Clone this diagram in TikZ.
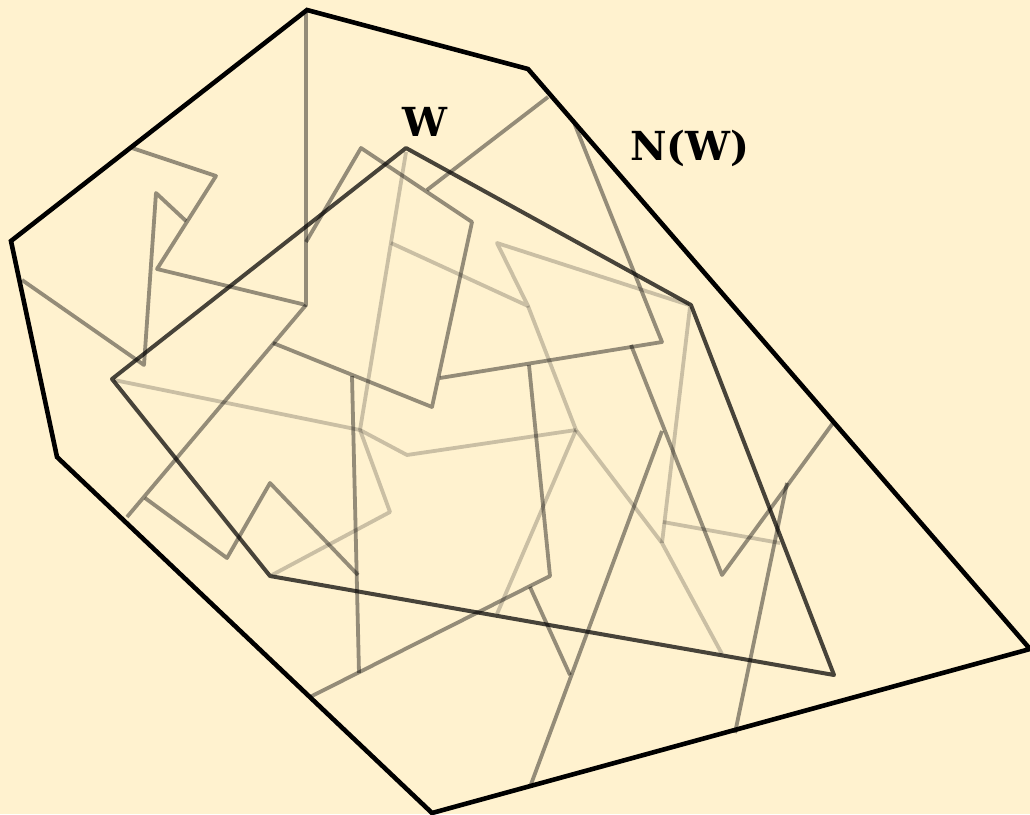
\documentclass[tikz,border=0pt]{standalone}
\usepackage{fontspec}
\newfontfamily\lblfont{DejaVu Serif}
\definecolor{bg}{RGB}{255,242,207}
\begin{document}
\begin{tikzpicture}[x=1pt,y=-1pt,
  outerline/.style={draw=black,line width=4.6pt,line join=miter},
  wline/.style={draw=black,draw opacity=0.72,line width=4pt,line join=round},
  darkline/.style={draw=black,draw opacity=0.42,line width=3.8pt,line join=round},
  lightline/.style={draw=black!80!bg,draw opacity=0.26,line width=3.8pt,line join=round},
  lbl/.style={font=\lblfont\bfseries\fontsize{40}{42}\selectfont,inner sep=0pt}]
\fill[bg] (0,0) rectangle (1030,814);
\useasboundingbox (0,0) rectangle (1030,814);
% outer polygon N(W)
\coordinate (o1) at (307,10);
\coordinate (o2) at (528,69);
\coordinate (o3) at (1030,649);
\coordinate (o4) at (432,813);
\coordinate (o5) at (57,457);
\coordinate (o6) at (11,241);
% polygon W
\coordinate (w1) at (406,148);
\coordinate (w2) at (691,305);
\coordinate (w3) at (834,675);
\coordinate (w4) at (270,576);
\coordinate (w5) at (112,379);
% light paths
\path[lightline] (406,152) -- (360,430);
\path[lightline] (114,380) -- (360,430) -- (407,455) -- (576,430);
\path[lightline] (360,430) -- (390,512) -- (272,575);
\path[lightline] (391,243) -- (528,306) -- (497,243) -- (689,305);
\path[lightline] (528,306) -- (576,430) -- (662,543) -- (722,654);
\path[lightline] (576,430) -- (497,614);
\path[lightline] (690,307) -- (662,543);
\path[lightline] (663,522) -- (780,543);
% dark paths
\path[darkline] (132,148) -- (216,176) -- (157,269) -- (306,305) -- (306,10);
\path[darkline] (306,305) -- (127,517);
\path[darkline] (306,242) -- (361,148) -- (472,222) -- (432,407) -- (273,343);
\path[darkline] (427,190) -- (548,97);
\path[darkline] (573,120) -- (662,342) -- (440,378);
\path[darkline] (631,345) -- (722,575) -- (833,423);
\path[darkline] (22,280) -- (144,365) -- (156,193) -- (186,221);
\path[darkline] (352,376) -- (359,673);
\path[darkline] (529,365) -- (550,576) -- (310,697);
\path[darkline] (530,587) -- (570,675);
\path[darkline] (530,787) -- (662,431);
\path[darkline] (145,498) -- (227,558) -- (270,483) -- (358,575);
\path[darkline] (787,483) -- (735,733);
% polygons
\path[wline] (w1) -- (w2) -- (w3) -- (w4) -- (w5) -- cycle;
\path[outerline] (o1) -- (o2) -- (o3) -- (o4) -- (o5) -- (o6) -- cycle;
% labels
\node[lbl] (lw) at (425,122) {W};
\node[lbl] (lnw) at (690,148) {N(W)};
\end{tikzpicture}
\end{document}
